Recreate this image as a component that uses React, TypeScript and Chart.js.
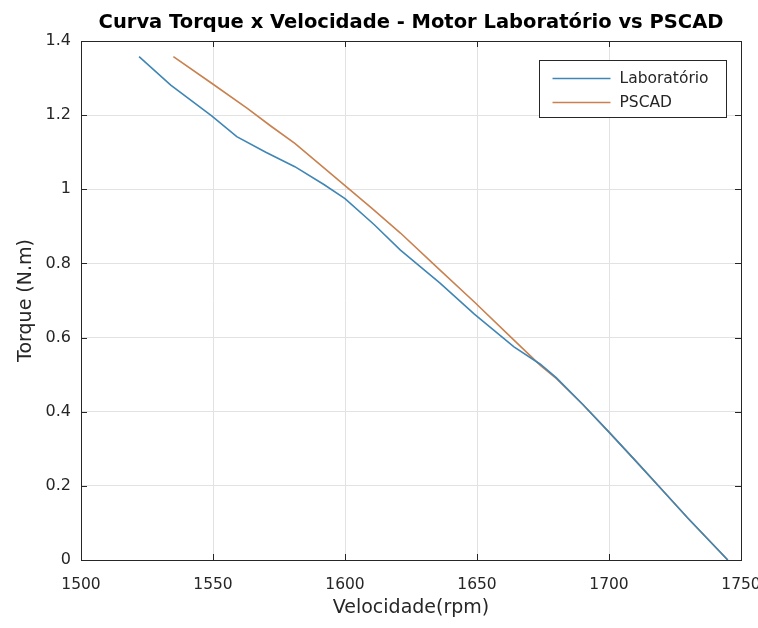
import React, { useEffect, useRef } from "react";
import { Chart, registerables } from "chart.js";

Chart.register(...registerables);

const labRpm = [1522, 1534, 1549.5, 1559, 1570, 1581, 1592, 1600, 1611, 1621, 1636, 1649, 1664, 1674, 1680, 1690, 1700, 1710, 1720, 1730, 1745];
const labTorque = [1.358, 1.281, 1.198, 1.142, 1.1, 1.061, 1.013, 0.975, 0.905, 0.836, 0.747, 0.663, 0.575, 0.528, 0.492, 0.42, 0.345, 0.268, 0.19, 0.112, 0.0];
const pscadRpm = [1535, 1549.5, 1563, 1572, 1581, 1590, 1600, 1610, 1621, 1636, 1649, 1664, 1674, 1680, 1690, 1700, 1710, 1720, 1730, 1745];
const pscadTorque = [1.358, 1.286, 1.218, 1.17, 1.124, 1.07, 1.01, 0.95, 0.882, 0.782, 0.696, 0.593, 0.525, 0.49, 0.42, 0.345, 0.268, 0.19, 0.112, 0.0];
const xTicks = [1500, 1550, 1600, 1650, 1700, 1750];
const yTicks = [0, 0.2, 0.4, 0.6, 0.8, 1, 1.2, 1.4];
const seriesNames = ["Laboratório", "PSCAD"];
const seriesColors = ["#3f86b5", "#c9814f"];

const FONT = "'DejaVu Sans', 'Liberation Sans', Arial, sans-serif";
const DARK = "#262626";

const frameAndLegend = {
  id: "frameAndLegend",
  afterDraw(chart: any) {
    const { ctx, chartArea } = chart;
    const { left, right, top, bottom } = chartArea;
    const xs = chart.scales.x;
    const ys = chart.scales.y;
    ctx.save();
    ctx.strokeStyle = DARK;
    ctx.lineWidth = 1;
    ctx.strokeRect(Math.round(left) + 0.5, Math.round(top) + 0.5, Math.round(right - left), Math.round(bottom - top));
    ctx.beginPath();
    for (const v of xTicks) {
      const px = Math.round(xs.getPixelForValue(v)) + 0.5;
      ctx.moveTo(px, bottom);
      ctx.lineTo(px, bottom - 6);
      ctx.moveTo(px, top);
      ctx.lineTo(px, top + 6);
    }
    for (const v of yTicks) {
      const py = Math.round(ys.getPixelForValue(v)) + 0.5;
      ctx.moveTo(left, py);
      ctx.lineTo(left + 6, py);
      ctx.moveTo(right, py);
      ctx.lineTo(right - 6, py);
    }
    ctx.stroke();

    // legend
    const bw = 187, bh = 57;
    const bx = Math.round(right - 15 - bw) + 0.5;
    const by = Math.round(top + 19) + 0.5;
    ctx.fillStyle = "#ffffff";
    ctx.fillRect(bx, by, bw, bh);
    ctx.strokeStyle = DARK;
    ctx.strokeRect(bx, by, bw, bh);
    ctx.font = `15.5px ${FONT}`;
    ctx.textBaseline = "middle";
    ctx.textAlign = "left";
    seriesNames.forEach((name, i) => {
      const cy = by + 18 + i * 24;
      ctx.strokeStyle = seriesColors[i];
      ctx.lineWidth = 1.5;
      ctx.beginPath();
      ctx.moveTo(bx + 13, cy);
      ctx.lineTo(bx + 71, cy);
      ctx.stroke();
      ctx.fillStyle = DARK;
      ctx.fillText(name, bx + 80, cy);
    });
    ctx.restore();
  },
};

export default function App() {
  const ref = useRef<HTMLCanvasElement | null>(null);
  useEffect(() => {
    document.body.style.margin = "0";
    const canvas = ref.current;
    if (!canvas) return;
    const chart = new Chart(canvas, {
      type: "line",
      data: {
        datasets: [
          {
            label: seriesNames[0],
            data: labRpm.map((x, i) => ({ x, y: labTorque[i] })),
            borderColor: seriesColors[0],
            backgroundColor: seriesColors[0],
            borderWidth: 1.6,
            pointRadius: 0,
            tension: 0,
          },
          {
            label: seriesNames[1],
            data: pscadRpm.map((x, i) => ({ x, y: pscadTorque[i] })),
            borderColor: seriesColors[1],
            backgroundColor: seriesColors[1],
            borderWidth: 1.6,
            pointRadius: 0,
            tension: 0,
          },
        ],
      },
      options: {
        animation: false,
        responsive: false,
        maintainAspectRatio: false,
        layout: { padding: { left: 0, right: 17, top: 0, bottom: 0 } },
        plugins: {
          legend: { display: false },
          tooltip: { enabled: false },
          title: {
            display: true,
            fullSize: false,
            text: "Curva Torque x Velocidade - Motor Laboratório vs PSCAD",
            color: "#000000",
            font: { family: FONT, size: 19.5, weight: "bold" },
            padding: { top: 11.5, bottom: 6.1 },
          },
        },
        scales: {
          x: {
            type: "linear",
            min: 1500,
            max: 1750,
            afterBuildTicks: (s: any) => {
              s.ticks = xTicks.map((v) => ({ value: v }));
            },
            afterFit: (s: any) => {
              s.height = 68;
              s.paddingLeft = 0;
              s.paddingRight = 0;
            },
            ticks: {
              color: DARK,
              font: { family: FONT, size: 15.5 },
              padding: 16,
              maxRotation: 0,
              callback: (v: any) => String(v),
            },
            grid: { color: "#e2e2e2", drawTicks: false, lineWidth: 1 },
            border: { display: false },
            title: {
              display: true,
              text: "Velocidade(rpm)",
              color: DARK,
              font: { family: FONT, size: 19 },
              padding: { top: 0, bottom: 8.6 },
            },
          },
          y: {
            type: "linear",
            min: 0,
            max: 1.4,
            afterBuildTicks: (s: any) => {
              s.ticks = yTicks.map((v) => ({ value: v }));
            },
            afterFit: (s: any) => {
              s.width = 81;
              s.paddingTop = 0;
              s.paddingBottom = 0;
            },
            ticks: {
              color: DARK,
              font: { family: FONT, size: 16 },
              padding: 10,
              callback: (v: any) => String(Math.round(Number(v) * 10) / 10),
            },
            grid: { color: "#e2e2e2", drawTicks: false, lineWidth: 1 },
            border: { display: false },
            title: {
              display: true,
              text: "Torque (N.m)",
              color: DARK,
              font: { family: FONT, size: 19 },
              padding: { top: 14.6, bottom: 14.6 },
            },
          },
        },
      },
      plugins: [frameAndLegend],
    } as any);
    return () => chart.destroy();
  }, []);
  return (
    <div style={{ width: 758, height: 628, background: "#ffffff" }}>
      <canvas ref={ref} width={758} height={628} style={{ display: "block", width: 758, height: 628 }} />
    </div>
  );
}
